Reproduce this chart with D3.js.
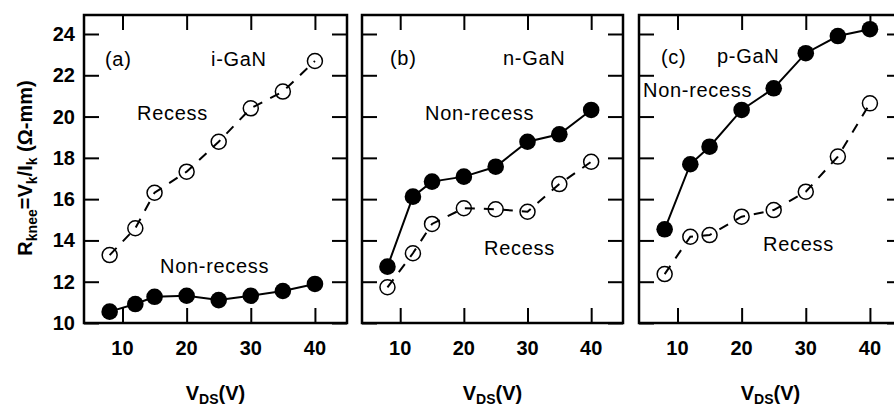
<!DOCTYPE html>
<html>
<head>
<meta charset="utf-8">
<script src="https://cdn.jsdelivr.net/npm/d3@7"></script>
<style>
  html, body { margin: 0; padding: 0; background: #fff; }
  svg { display: block; font-family: "Liberation Sans", Arial, sans-serif; }
</style>
</head>
<body>
<svg id="chart" width="894" height="408"></svg>
<script>
// Drain bias points (V)
const vds = [8, 12, 15, 20, 25, 30, 35, 40];

// Knee resistance (Ω-mm) per cap layer
const iGaNNonRecess = [10.55, 10.92, 11.27, 11.32, 11.11, 11.32, 11.55, 11.89];
const iGaNRecess    = [13.29, 14.59, 16.31, 17.33, 18.78, 20.40, 21.21, 22.69];
const nGaNNonRecess = [12.73, 16.12, 16.85, 17.09, 17.57, 18.78, 19.14, 20.32];
const nGaNRecess    = [11.73, 13.38, 14.80, 15.56, 15.51, 15.39, 16.73, 17.81];
const pGaNNonRecess = [14.54, 17.69, 18.54, 20.32, 21.37, 23.07, 23.90, 24.23];
const pGaNRecess    = [12.37, 14.18, 14.26, 15.15, 15.47, 16.36, 18.06, 20.64];

const xTicks = [10, 20, 30, 40];
const yTicks = [10, 12, 14, 16, 18, 20, 22, 24];

const panelTags = ["(a)", "(b)", "(c)"];
const capLayers = ["i-GaN", "n-GaN", "p-GaN"];

const svg = d3.select("#chart");

const plotTop = 15, plotBottom = 323;
const y = d3.scaleLinear().domain([10, 24.92]).range([plotBottom, plotTop]);

const panels = [
  { left: 84,  right: 347, filled: iGaNNonRecess, open: iGaNRecess,
    labels: [
      { t: panelTags[0], x: 105, y: 66 },
      { t: capLayers[0], x: 211, y: 66 },
      { t: "Recess", x: 137, y: 120 },
      { t: "Non-recess", x: 160, y: 273 }
    ] },
  { left: 362, right: 623, filled: nGaNNonRecess, open: nGaNRecess,
    labels: [
      { t: panelTags[1], x: 390, y: 65 },
      { t: capLayers[1], x: 503, y: 65 },
      { t: "Non-recess", x: 425, y: 120 },
      { t: "Recess", x: 484, y: 255 }
    ] },
  { left: 639, right: 902, filled: pGaNNonRecess, open: pGaNRecess,
    labels: [
      { t: panelTags[2], x: 661, y: 64 },
      { t: capLayers[2], x: 717, y: 63 },
      { t: "Non-recess", x: 643, y: 97 },
      { t: "Recess", x: 763, y: 251 }
    ] }
];

const tickLen = 15;

panels.forEach((p, i) => {
  const x = d3.scaleLinear().domain([4, 45]).range([p.left, p.right]);
  const g = svg.append("g");

  // inward ticks on all four sides
  const axB = d3.axisTop(x).tickValues(xTicks).tickSize(tickLen).tickFormat("");
  const axT = d3.axisBottom(x).tickValues(xTicks).tickSize(tickLen).tickFormat("");
  const axL = d3.axisRight(y).tickValues(yTicks).tickSize(tickLen).tickFormat("");
  const axR = d3.axisLeft(y).tickValues(yTicks).tickSize(tickLen).tickFormat("");
  [[axB, `translate(0,${plotBottom})`], [axT, `translate(0,${plotTop})`],
   [axL, `translate(${p.left},0)`], [axR, `translate(${p.right},0)`]].forEach(([ax, tr]) => {
    const a = g.append("g").attr("transform", tr).call(ax);
    a.select(".domain").remove();
    a.selectAll("line").attr("stroke", "#000").attr("stroke-width", 2);
  });

  // tick labels along the bottom
  g.selectAll("text.xt").data(xTicks).join("text")
    .attr("class", "xt")
    .attr("x", d => x(d)).attr("y", 355)
    .attr("text-anchor", "middle")
    .attr("font-size", 20).attr("font-weight", "bold")
    .text(d => d);

  if (i === 0) {
    g.selectAll("text.yt").data(yTicks).join("text")
      .attr("class", "yt")
      .attr("x", 75).attr("y", d => y(d) + 7)
      .attr("text-anchor", "end")
      .attr("font-size", 20).attr("font-weight", "bold")
      .text(d => d);
  }

  // frame
  g.append("rect")
    .attr("x", p.left).attr("y", plotTop)
    .attr("width", p.right - p.left).attr("height", plotBottom - plotTop)
    .attr("fill", "none").attr("stroke", "#000").attr("stroke-width", 2.5);

  const line = d3.line().x((d, k) => x(vds[k])).y(d => y(d));

  // recess: dashed line with hollow circles
  g.append("path").datum(p.open)
    .attr("d", line)
    .attr("fill", "none").attr("stroke", "#000")
    .attr("stroke-width", 2).attr("stroke-dasharray", "10,9");
  g.selectAll("circle.open").data(p.open).join("circle")
    .attr("class", "open")
    .attr("cx", (d, k) => x(vds[k])).attr("cy", d => y(d))
    .attr("r", 7.5)
    .attr("fill", "none").attr("stroke", "#000").attr("stroke-width", 1.5);

  // non-recess: solid line with filled circles
  g.append("path").datum(p.filled)
    .attr("d", line)
    .attr("fill", "none").attr("stroke", "#000").attr("stroke-width", 2);
  g.selectAll("circle.filled").data(p.filled).join("circle")
    .attr("class", "filled")
    .attr("cx", (d, k) => x(vds[k])).attr("cy", d => y(d))
    .attr("r", 8.3)
    .attr("fill", "#000");

  // in-panel annotations
  g.selectAll("text.lab").data(p.labels).join("text")
    .attr("class", "lab")
    .attr("x", d => d.x).attr("y", d => d.y)
    .attr("font-size", 20).attr("letter-spacing", 0.7)
    .text(d => d.t);

  // x-axis title
  const xt = g.append("text")
    .attr("x", (p.left + p.right) / 2)
    .attr("y", 400)
    .attr("text-anchor", "middle")
    .attr("font-size", 20).attr("font-weight", "bold");
  xt.append("tspan").text("V");
  xt.append("tspan").attr("font-size", 14).attr("dy", 4).text("DS");
  xt.append("tspan").attr("dy", -4).text("(V)");
});

// y-axis title
const yt = svg.append("text")
  .attr("transform", `translate(32,168) rotate(-90)`)
  .attr("text-anchor", "middle")
  .attr("font-size", 20).attr("font-weight", "bold");
yt.append("tspan").text("R");
yt.append("tspan").attr("font-size", 14).attr("dy", 5).text("knee");
yt.append("tspan").attr("dy", -5).text("=V");
yt.append("tspan").attr("font-size", 14).attr("dy", 5).text("k");
yt.append("tspan").attr("dy", -5).text("/I");
yt.append("tspan").attr("font-size", 14).attr("dy", 5).text("k");
yt.append("tspan").attr("dy", -5).text(" (Ω-mm)");
</script>
</body>
</html>
